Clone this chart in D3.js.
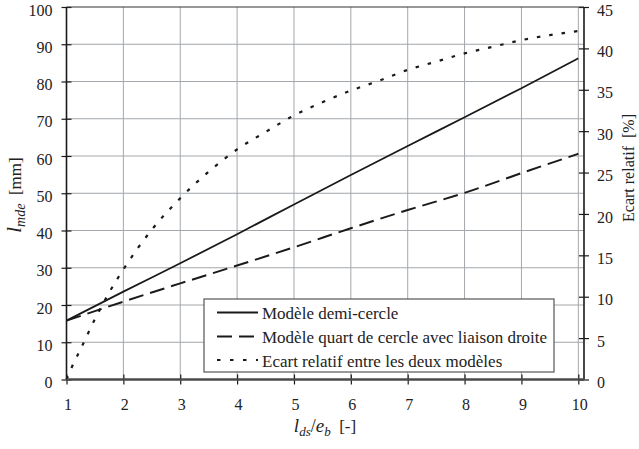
<!DOCTYPE html>
<html>
<head>
<meta charset="utf-8">
<script src="https://cdn.jsdelivr.net/npm/d3@7"></script>
<style>
  html, body { margin: 0; padding: 0; background: #fff; }
</style>
</head>
<body>
<svg id="chart" width="639" height="449"></svg>
<script>
// Rapport de forme l_ds/e_b
const ratio = [1, 2, 3, 4, 5, 6, 7, 8, 9, 10];
// Longueur l_mde [mm] - modèle demi-cercle
const demiCercle = [15.8, 23.6, 31.2, 39.0, 47.0, 54.9, 62.7, 70.4, 78.2, 86.2];
// Longueur l_mde [mm] - modèle quart de cercle avec liaison droite
const quartCercle = [15.8, 20.9, 25.8, 30.6, 35.5, 40.6, 45.5, 50.1, 55.4, 60.6];
// Écart relatif [%] entre les deux modèles
const ecartX = [1, 1.1, 1.25, 1.5, 1.75, 2, 2.5, 3, 3.5, 4, 4.5, 5, 5.5, 6, 6.5, 7, 7.5, 8, 8.5, 9, 9.5, 10];
const ecart  = [0, 1.6, 3.7, 7.3, 10.5, 13.3, 18.1, 21.9, 25.1, 27.8, 29.9, 31.9, 33.5, 34.9, 36.1, 37.4, 38.4, 39.4, 40.2, 41.0, 41.6, 42.1];
// Graduations
const xTicks = [1, 2, 3, 4, 5, 6, 7, 8, 9, 10];
const yLeftTicks = [0, 10, 20, 30, 40, 50, 60, 70, 80, 90, 100];
const yRightTicks = [0, 5, 10, 15, 20, 25, 30, 35, 40, 45];
const legendLabels = [
  "Modèle demi-cercle",
  "Modèle quart de cercle avec liaison droite",
  "Ecart relatif entre les deux modèles"
];

const serif = "'Liberation Serif', 'Times New Roman', Tinos, 'Noto Serif', 'DejaVu Serif', FreeSerif, serif";
const svg = d3.select("#chart").attr("font-family", serif);
const pLeft = 66.5, pRight = 584, pTop = 7, pBottom = 379.5;

const x = d3.scaleLinear().domain([1, 10.1]).range([pLeft, pRight]);
const yL = d3.scaleLinear().domain([0, 100]).range([pBottom, pTop]);
const yR = d3.scaleLinear().domain([0, 45]).range([pBottom, pTop]);

const ink = "#1a1a1a";
const gridColor = "#a3a7ab";

// Grille
const grid = svg.append("g");
grid.selectAll("line.gx").data(xTicks.slice(1)).join("line")
  .attr("x1", d => x(d)).attr("x2", d => x(d))
  .attr("y1", pTop).attr("y2", pBottom)
  .attr("stroke", gridColor).attr("stroke-width", 1);
grid.selectAll("line.gy").data(yLeftTicks.slice(1, -1)).join("line")
  .attr("x1", pLeft).attr("x2", pRight)
  .attr("y1", d => yL(d)).attr("y2", d => yL(d))
  .attr("stroke", gridColor).attr("stroke-width", 1);

// Courbes
const line = (xs, ys, yScale) => d3.line()
  .x((d, i) => x(xs[i]))
  .y((d, i) => yScale(ys[i]))
  .curve(d3.curveMonotoneX)(ys);

const plot = svg.append("g");
plot.append("path").attr("d", line(ratio, demiCercle, yL))
  .attr("fill", "none").attr("stroke", ink).attr("stroke-width", 1.8);
plot.append("path").attr("d", line(ratio, quartCercle, yL))
  .attr("fill", "none").attr("stroke", ink).attr("stroke-width", 2)
  .attr("stroke-dasharray", "15,7");
plot.append("path").attr("d", line(ecartX, ecart, yR))
  .attr("fill", "none").attr("stroke", ink).attr("stroke-width", 2.2)
  .attr("stroke-dasharray", "3.5,9");

// Axes
const fontSize = 16;
const axL = svg.append("g").attr("transform", `translate(${pLeft},0)`)
  .call(d3.axisLeft(yL).tickValues(yLeftTicks).tickSizeInner(5).tickSizeOuter(0).tickPadding(9));
axL.selectAll(".tick line").attr("x1", 5).attr("stroke", ink).attr("stroke-width", 1.2);
axL.selectAll(".tick text").attr("y", 3);

const axR = svg.append("g").attr("transform", `translate(${pRight},0)`)
  .call(d3.axisRight(yR).tickValues(yRightTicks).tickSizeInner(5).tickSizeOuter(0).tickPadding(8));
axR.selectAll(".tick line").attr("x1", -5).attr("stroke", ink).attr("stroke-width", 1.2);
axR.selectAll(".tick text").attr("y", 3);

const axB = svg.append("g").attr("transform", `translate(0,${pBottom})`)
  .call(d3.axisBottom(x).tickValues(xTicks).tickSizeInner(5).tickSizeOuter(0).tickPadding(16));
axB.selectAll(".tick line").attr("y1", -5).attr("stroke", ink).attr("stroke-width", 1.2);
axB.selectAll(".tick text").attr("y", 19).attr("dy", "0.71em").attr("dx", 1);

[axL, axR, axB].forEach(a => {
  a.attr("font-family", serif).attr("font-size", fontSize);
  a.selectAll(".tick text").attr("fill", "#222");
  a.select(".domain").remove();
});

// Cadre
svg.append("line").attr("x1", pLeft).attr("x2", pRight).attr("y1", pTop).attr("y2", pTop)
  .attr("stroke", "#333").attr("stroke-width", 1.2);
svg.append("line").attr("x1", pLeft).attr("x2", pLeft).attr("y1", pTop).attr("y2", pBottom)
  .attr("stroke", ink).attr("stroke-width", 1.6);
svg.append("line").attr("x1", pRight).attr("x2", pRight).attr("y1", pTop).attr("y2", pBottom)
  .attr("stroke", ink).attr("stroke-width", 1.6);
svg.append("line").attr("x1", pLeft).attr("x2", pRight).attr("y1", pBottom).attr("y2", pBottom)
  .attr("stroke", "#4a4a4a").attr("stroke-width", 2.4);

// Titres des axes
const tY = svg.append("text")
  .attr("transform", "translate(21,195) rotate(-90)")
  .attr("text-anchor", "middle").attr("fill", "#222");
tY.append("tspan").attr("font-style", "italic").attr("font-size", 21).text("l");
tY.append("tspan").attr("font-style", "italic").attr("font-size", 14).attr("dy", 4).text("mde");
tY.append("tspan").attr("font-size", 17).attr("dy", -4).attr("xml:space", "preserve").text("  [mm]");

const tX = svg.append("text")
  .attr("transform", "translate(325,432)")
  .attr("text-anchor", "middle").attr("fill", "#222");
tX.append("tspan").attr("font-style", "italic").attr("font-size", 19).text("l");
tX.append("tspan").attr("font-style", "italic").attr("font-size", 13).attr("dy", 4).text("ds");
tX.append("tspan").attr("font-size", 18).attr("dy", -4).text("/");
tX.append("tspan").attr("font-style", "italic").attr("font-size", 19).text("e");
tX.append("tspan").attr("font-style", "italic").attr("font-size", 13).attr("dy", 4).text("b");
tX.append("tspan").attr("font-size", 17).attr("dy", -4).attr("xml:space", "preserve").text("  [-]");

svg.append("text")
  .attr("transform", "translate(634,168) rotate(-90)")
  .attr("text-anchor", "middle").attr("font-size", 16).attr("fill", "#222")
  .attr("xml:space", "preserve")
  .text("Ecart relatif  [%]");

// Légende
const lg = svg.append("g");
lg.append("rect").attr("x", 204).attr("y", 299).attr("width", 350).attr("height", 73)
  .attr("fill", "#fff").attr("stroke", "#555").attr("stroke-width", 1.2);
const rowY = [312.5, 336.5, 360];
const dashes = [null, "15,7", "3.5,9.5"];
const widths = [1.8, 2, 2.2];
legendLabels.forEach((label, i) => {
  lg.append("line").attr("x1", 217).attr("x2", 258).attr("y1", rowY[i]).attr("y2", rowY[i])
    .attr("stroke", ink).attr("stroke-width", widths[i])
    .attr("stroke-dasharray", dashes[i]);
  lg.append("text").attr("x", 262).attr("y", rowY[i] + 6.5)
    .attr("font-size", 17).attr("fill", "#222").text(label);
});
</script>
</body>
</html>
